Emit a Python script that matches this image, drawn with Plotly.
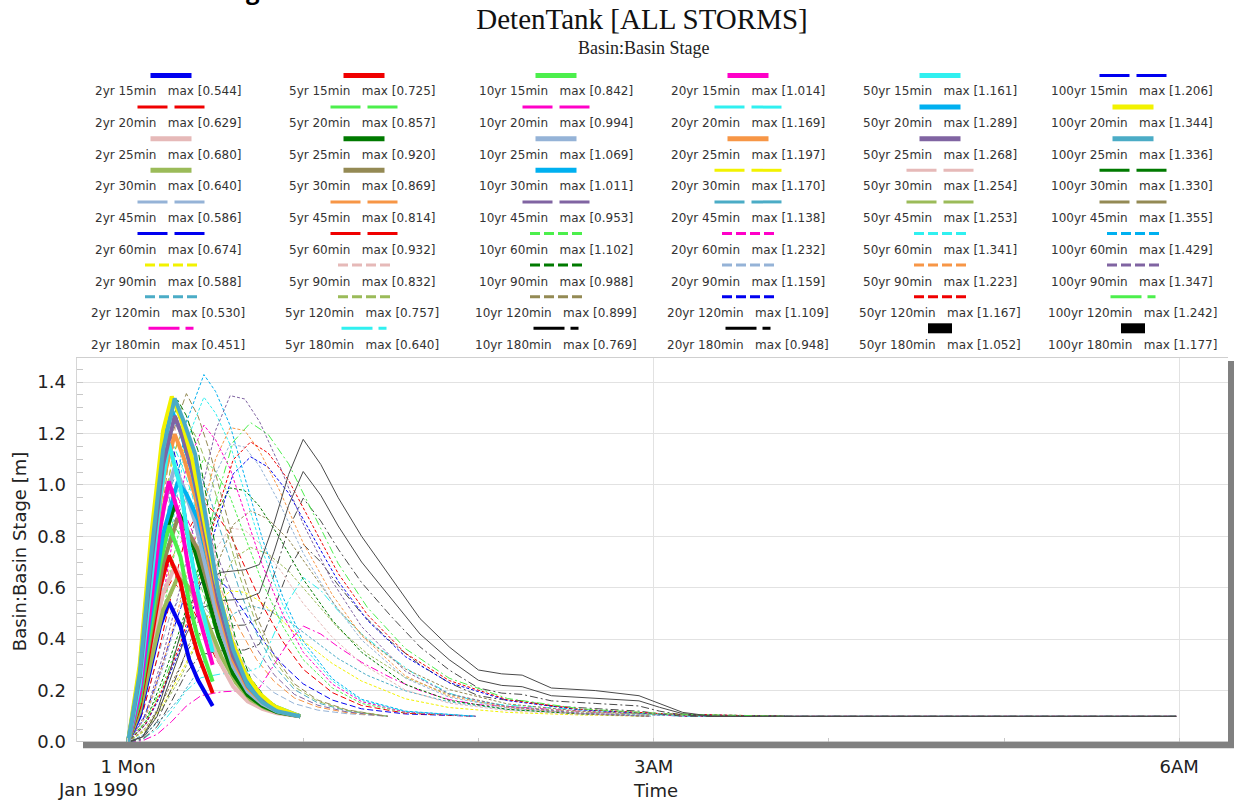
import plotly.graph_objects as go
import pandas as pd

# ---------------- data ----------------
RETURN_PERIODS = [2, 5, 10, 20, 50, 100]
DURATIONS = [15, 20, 25, 30, 45, 60, 90, 120, 180]

# time grids (minutes after 1 Jan 1990 00:00) for each storm duration
T15 = [0, 4, 8, 11, 14, 18, 21, 24, 29]
T20 = [0, 4, 8, 12, 15, 18, 22, 26, 30, 35, 40, 45, 50, 59]
T25 = [0, 4, 8, 12, 16, 19, 23, 27, 31, 36, 41, 46, 51, 59]
T30 = [0, 4, 8, 12, 17, 20, 24, 28, 32, 37, 42, 47, 52, 59]
T45 = [0, 5, 10, 15, 20, 24, 28, 33, 38, 44, 50, 57, 65, 75, 89]
T60 = [0, 5, 10, 15, 20, 26, 30, 35, 40, 46, 53, 60, 70, 80, 95, 119]
T90 = [0, 6, 12, 18, 24, 30, 35, 40, 45, 52, 60, 70, 80, 95, 110, 130, 155, 179]
T120 = [0, 6, 12, 18, 24, 30, 36, 42, 48, 55, 63, 72, 82, 95, 110, 130, 155, 185, 225]
T180 = [0, 5, 10, 15, 20, 25, 32, 40, 45, 50, 55, 60, 66, 72, 80, 90, 100, 110, 120, 128,
        135, 145, 160, 175, 182, 190, 200, 215, 240, 280, 359]

# basin stage [m]; rows = 2, 5, 10, 20, 50, 100 yr
STAGE_15 = [
    [0.0, 0.10, 0.30, 0.45, 0.544, 0.45, 0.32, 0.24, 0.14],
    [0.0, 0.14, 0.40, 0.60, 0.725, 0.62, 0.46, 0.34, 0.19],
    [0.0, 0.16, 0.46, 0.69, 0.842, 0.72, 0.54, 0.40, 0.235],
    [0.0, 0.19, 0.55, 0.83, 1.014, 0.86, 0.66, 0.50, 0.30],
    [0.0, 0.22, 0.63, 0.95, 1.161, 0.99, 0.76, 0.58, 0.35],
    [0.0, 0.23, 0.66, 0.99, 1.206, 1.03, 0.79, 0.60, 0.37],
]
STAGE_20 = [
    [0.0, 0.138, 0.377, 0.566, 0.629, 0.592, 0.523, 0.428, 0.327, 0.232, 0.174, 0.137, 0.116, 0.10],
    [0.0, 0.19, 0.51, 0.77, 0.857, 0.80, 0.71, 0.57, 0.43, 0.29, 0.21, 0.15, 0.12, 0.10],
    [0.0, 0.22, 0.60, 0.89, 0.994, 0.93, 0.82, 0.65, 0.48, 0.32, 0.23, 0.16, 0.13, 0.10],
    [0.0, 0.26, 0.70, 1.05, 1.169, 1.09, 0.96, 0.76, 0.56, 0.37, 0.25, 0.17, 0.13, 0.10],
    [0.0, 0.28, 0.77, 1.16, 1.289, 1.21, 1.05, 0.84, 0.61, 0.40, 0.27, 0.18, 0.14, 0.10],
    [0.0, 0.30, 0.81, 1.21, 1.344, 1.26, 1.10, 0.87, 0.63, 0.41, 0.27, 0.19, 0.14, 0.10],
]
STAGE_25 = [
    [0.0, 0.136, 0.374, 0.578, 0.680, 0.634, 0.552, 0.436, 0.32, 0.216, 0.158, 0.129, 0.112, 0.10],
    [0.0, 0.184, 0.506, 0.782, 0.920, 0.854, 0.74, 0.576, 0.412, 0.264, 0.182, 0.141, 0.116, 0.10],
    [0.0, 0.214, 0.588, 0.909, 1.069, 0.991, 0.856, 0.662, 0.468, 0.294, 0.197, 0.148, 0.119, 0.10],
    [0.0, 0.239, 0.658, 1.017, 1.197, 1.109, 0.956, 0.736, 0.517, 0.319, 0.21, 0.155, 0.122, 0.10],
    [0.0, 0.254, 0.697, 1.078, 1.268, 1.175, 1.011, 0.777, 0.544, 0.334, 0.217, 0.158, 0.123, 0.10],
    [0.0, 0.267, 0.735, 1.136, 1.336, 1.25, 1.12, 0.85, 0.58, 0.36, 0.22, 0.155, 0.12, 0.10],
]
STAGE_30 = [
    [0.0, 0.115, 0.32, 0.512, 0.640, 0.613, 0.554, 0.446, 0.332, 0.23, 0.165, 0.132, 0.114, 0.10],
    [0.0, 0.156, 0.435, 0.695, 0.869, 0.831, 0.746, 0.592, 0.431, 0.285, 0.192, 0.146, 0.119, 0.10],
    [0.0, 0.182, 0.506, 0.809, 1.011, 0.965, 0.865, 0.683, 0.492, 0.319, 0.209, 0.155, 0.123, 0.10],
    [0.0, 0.211, 0.585, 0.936, 1.170, 1.117, 0.999, 0.785, 0.56, 0.357, 0.228, 0.164, 0.127, 0.10],
    [0.0, 0.226, 0.627, 1.003, 1.254, 1.196, 1.069, 0.839, 0.596, 0.377, 0.238, 0.169, 0.129, 0.10],
    [0.0, 0.239, 0.665, 1.064, 1.330, 1.269, 1.133, 0.887, 0.629, 0.395, 0.248, 0.174, 0.131, 0.10],
]
STAGE_45 = [
    [0.0, 0.117, 0.322, 0.516, 0.586, 0.552, 0.499, 0.416, 0.333, 0.251, 0.192, 0.149, 0.124, 0.11, 0.10],
    [0.0, 0.163, 0.448, 0.716, 0.814, 0.764, 0.685, 0.564, 0.443, 0.321, 0.236, 0.171, 0.136, 0.114, 0.10],
    [0.0, 0.191, 0.524, 0.839, 0.953, 0.893, 0.799, 0.654, 0.509, 0.364, 0.262, 0.185, 0.143, 0.117, 0.10],
    [0.0, 0.228, 0.626, 1.001, 1.138, 1.065, 0.951, 0.775, 0.598, 0.422, 0.297, 0.204, 0.152, 0.121, 0.10],
    [0.0, 0.251, 0.689, 1.103, 1.253, 1.172, 1.045, 0.849, 0.653, 0.457, 0.319, 0.215, 0.158, 0.123, 0.10],
    [0.0, 0.271, 0.745, 1.192, 1.355, 1.267, 1.129, 0.916, 0.702, 0.489, 0.338, 0.226, 0.163, 0.125, 0.10],
]
STAGE_60 = [
    [0.0, 0.081, 0.236, 0.418, 0.586, 0.674, 0.645, 0.588, 0.502, 0.398, 0.301, 0.226, 0.163, 0.129, 0.109, 0.10],
    [0.0, 0.112, 0.326, 0.578, 0.811, 0.932, 0.89, 0.807, 0.682, 0.533, 0.391, 0.283, 0.192, 0.142, 0.112, 0.10],
    [0.0, 0.132, 0.386, 0.683, 0.959, 1.102, 1.052, 0.952, 0.801, 0.621, 0.451, 0.32, 0.21, 0.15, 0.115, 0.10],
    [0.0, 0.148, 0.431, 0.764, 1.072, 1.232, 1.175, 1.062, 0.892, 0.689, 0.496, 0.349, 0.225, 0.157, 0.117, 0.10],
    [0.0, 0.161, 0.469, 0.831, 1.167, 1.341, 1.279, 1.155, 0.969, 0.745, 0.534, 0.373, 0.237, 0.162, 0.119, 0.10],
    [0.0, 0.171, 0.50, 0.886, 1.243, 1.429, 1.363, 1.23, 1.03, 0.791, 0.565, 0.392, 0.246, 0.166, 0.12, 0.10],
]
STAGE_90 = [
    [0.0, 0.047, 0.147, 0.265, 0.40, 0.529, 0.588, 0.582, 0.549, 0.481, 0.393, 0.305, 0.237, 0.168, 0.134, 0.115, 0.105, 0.10],
    [0.0, 0.067, 0.208, 0.374, 0.566, 0.749, 0.832, 0.824, 0.773, 0.671, 0.539, 0.407, 0.305, 0.202, 0.151, 0.122, 0.107, 0.10],
    [0.0, 0.079, 0.247, 0.445, 0.672, 0.889, 0.988, 0.978, 0.917, 0.793, 0.633, 0.473, 0.349, 0.224, 0.162, 0.127, 0.109, 0.10],
    [0.0, 0.093, 0.29, 0.522, 0.788, 1.043, 1.159, 1.147, 1.074, 0.926, 0.735, 0.545, 0.397, 0.248, 0.174, 0.132, 0.111, 0.10],
    [0.0, 0.098, 0.306, 0.55, 0.832, 1.101, 1.223, 1.211, 1.133, 0.976, 0.774, 0.572, 0.414, 0.257, 0.179, 0.134, 0.111, 0.10],
    [0.0, 0.108, 0.337, 0.606, 0.916, 1.212, 1.347, 1.334, 1.247, 1.073, 0.848, 0.624, 0.449, 0.275, 0.187, 0.137, 0.112, 0.10],
]
STAGE_120 = [
    [0.0, 0.032, 0.095, 0.175, 0.276, 0.398, 0.498, 0.530, 0.513, 0.47, 0.401, 0.324, 0.259, 0.199, 0.156, 0.126, 0.111, 0.103, 0.10],
    [0.0, 0.045, 0.136, 0.25, 0.394, 0.568, 0.712, 0.757, 0.731, 0.665, 0.56, 0.442, 0.343, 0.251, 0.185, 0.139, 0.116, 0.105, 0.10],
    [0.0, 0.054, 0.162, 0.297, 0.467, 0.674, 0.845, 0.899, 0.867, 0.787, 0.659, 0.515, 0.396, 0.284, 0.204, 0.148, 0.12, 0.106, 0.10],
    [0.0, 0.067, 0.20, 0.366, 0.577, 0.832, 1.042, 1.109, 1.069, 0.968, 0.806, 0.625, 0.473, 0.332, 0.231, 0.161, 0.125, 0.108, 0.10],
    [0.0, 0.07, 0.21, 0.385, 0.607, 0.875, 1.097, 1.167, 1.124, 1.018, 0.847, 0.655, 0.495, 0.345, 0.239, 0.164, 0.127, 0.109, 0.10],
    [0.0, 0.075, 0.224, 0.41, 0.646, 0.932, 1.167, 1.242, 1.196, 1.082, 0.899, 0.694, 0.523, 0.363, 0.248, 0.169, 0.129, 0.109, 0.10],
]
STAGE_180 = [
    [0.0, 0.005, 0.03, 0.08, 0.14, 0.18, 0.195, 0.20, 0.21, 0.30, 0.39, 0.451, 0.42, 0.37, 0.31, 0.25, 0.20, 0.165, 0.145, 0.14,
     0.135, 0.125, 0.115, 0.11, 0.105, 0.10, 0.10, 0.10, 0.10, 0.10, 0.10],
    [0.0, 0.01, 0.05, 0.12, 0.20, 0.25, 0.265, 0.27, 0.29, 0.42, 0.55, 0.640, 0.59, 0.51, 0.42, 0.33, 0.25, 0.19, 0.155, 0.145,
     0.14, 0.13, 0.12, 0.11, 0.105, 0.10, 0.10, 0.10, 0.10, 0.10, 0.10],
    [0.0, 0.01, 0.06, 0.16, 0.27, 0.34, 0.355, 0.358, 0.38, 0.52, 0.67, 0.769, 0.70, 0.61, 0.50, 0.39, 0.30, 0.23, 0.18, 0.165,
     0.16, 0.14, 0.13, 0.12, 0.11, 0.10, 0.10, 0.10, 0.10, 0.10, 0.10],
    [0.0, 0.015, 0.08, 0.21, 0.35, 0.43, 0.45, 0.455, 0.48, 0.65, 0.83, 0.948, 0.86, 0.75, 0.62, 0.49, 0.37, 0.28, 0.21, 0.19,
     0.185, 0.16, 0.15, 0.14, 0.12, 0.105, 0.10, 0.10, 0.10, 0.10, 0.10],
    [0.0, 0.02, 0.10, 0.26, 0.42, 0.52, 0.55, 0.556, 0.58, 0.74, 0.92, 1.052, 0.96, 0.84, 0.70, 0.56, 0.42, 0.32, 0.24, 0.22,
     0.215, 0.18, 0.17, 0.16, 0.135, 0.11, 0.10, 0.10, 0.10, 0.10, 0.10],
    [0.0, 0.02, 0.12, 0.30, 0.50, 0.62, 0.66, 0.67, 0.69, 0.85, 1.04, 1.177, 1.08, 0.95, 0.80, 0.64, 0.48, 0.37, 0.28, 0.265,
     0.26, 0.21, 0.20, 0.18, 0.15, 0.115, 0.10, 0.10, 0.10, 0.10, 0.10],
]

TIMES = [T15, T20, T25, T30, T45, T60, T90, T120, T180]
STAGES = [STAGE_15, STAGE_20, STAGE_25, STAGE_30, STAGE_45, STAGE_60, STAGE_90, STAGE_120, STAGE_180]

X_TICK_LABELS = ["1 Mon", "3AM", "6AM"]
X_TICK_MINUTES = [0, 180, 360]
Y_TICKS = [0.0, 0.2, 0.4, 0.6, 0.8, 1.0, 1.2, 1.4]

# ---------------- styles ----------------
PALETTE = {
    "blue": "#0000F0", "red": "#F00000", "pink": "#E6B9B8", "olive": "#9BBB59",
    "lsb": "#95B3D7", "yellow": "#F2F200", "teal": "#4BACC6", "magenta": "#FF00C8",
    "lgreen": "#4CEF4C", "dgreen": "#007A00", "obrown": "#948A54", "orange": "#F79646",
    "cyan": "#30F0F0", "dsky": "#00B0F0", "purple": "#8064A2", "black": "#000000",
}
STYLE_GRID = [  # rows: return periods, cols: durations
    [("blue", "S"), ("red", "D"), ("pink", "S"), ("olive", "S"), ("lsb", "D"), ("blue", "D"), ("yellow", "d"), ("teal", "d"), ("magenta", "DD")],
    [("red", "S"), ("lgreen", "D"), ("dgreen", "S"), ("obrown", "S"), ("orange", "D"), ("red", "D"), ("pink", "d"), ("olive", "d"), ("cyan", "DD")],
    [("lgreen", "S"), ("magenta", "D"), ("lsb", "S"), ("dsky", "S"), ("purple", "D"), ("lgreen", "d"), ("dgreen", "d"), ("obrown", "d"), ("black", "DD")],
    [("magenta", "S"), ("cyan", "D"), ("orange", "S"), ("yellow", "D"), ("teal", "D"), ("magenta", "d"), ("lsb", "d"), ("blue", "d"), ("black", "DD")],
    [("cyan", "S"), ("dsky", "S"), ("purple", "S"), ("pink", "D"), ("olive", "D"), ("cyan", "d"), ("orange", "d"), ("red", "d"), ("black", "K")],
    [("blue", "D"), ("yellow", "S"), ("teal", "S"), ("dgreen", "D"), ("obrown", "D"), ("dsky", "d"), ("purple", "d"), ("lgreen", "DD"), ("black", "K")],
]
CHART_DASH = {"S": "solid", "D": "6px,3px", "d": "3px,2px", "DD": "8px,3px,2px,3px", "K": "solid"}
SANS = "DejaVu Sans, Arial"
SERIF = "Liberation Serif, Times New Roman"

BASE = pd.Timestamp("1990-01-01 00:00")


def to_time(mins):
    return [BASE + pd.Timedelta(minutes=m) for m in mins]


# plot-area pixel geometry
L, R, TOP, BOT = 76, 1228, 358, 745


def px_x(X):
    return (X - L) / (R - L)


def px_y(Y):
    return (BOT - Y) / (BOT - TOP)


fig = go.Figure()

thin, thick = [], []
for i, rp in enumerate(RETURN_PERIODS):
    for j, dur in enumerate(DURATIONS):
        cname, st = STYLE_GRID[i][j]
        (thick if st == "S" else thin).append((i, j, rp, dur, cname, st))

for (i, j, rp, dur, cname, st) in thin + thick:
    col = PALETTE[cname]
    if cname == "black":
        col = "#4a4a4a"
    fig.add_trace(go.Scatter(
        x=to_time(TIMES[j]), y=STAGES[j][i], mode="lines",
        name=f"{rp}yr {dur}min",
        line=dict(color=col, width=4 if st == "S" else 1, dash=CHART_DASH[st]),
        showlegend=False, hoverinfo="skip",
    ))

# ---------------- custom legend (6 columns x 9 rows) ----------------
LEG_SAMPLE_X = [171, 364, 556, 748, 940, 1133]
LEG_TEXT_X = [168, 362, 556, 748, 940, 1132]
shapes = []
annotations = []
NB = "\u00a0"
for i, rp in enumerate(RETURN_PERIODS):
    for j, dur in enumerate(DURATIONS):
        cname, st = STYLE_GRID[i][j]
        col = PALETTE[cname]
        cx = LEG_SAMPLE_X[i]
        cy = 75.5 + 31.6 * j
        if st == "S":
            half, w, dash = 20.5, 5, "solid"
        elif st == "D":
            half, w, dash = 33.5, 3, "30px,7px"
        elif st == "d":
            half, w, dash = 26, 3, "10px,4px"
        elif st == "DD":
            half, w, dash = 22.5, 3, "31px,6px,8px,6px"
        else:
            half, w, dash = 12, 10, "solid"
        shapes.append(dict(type="line", xref="paper", yref="paper",
                           x0=px_x(cx - half), x1=px_x(cx + half), y0=px_y(cy), y1=px_y(cy),
                           line=dict(color=col, width=w, dash=dash)))
        mx = max(STAGES[j][i])
        annotations.append(dict(
            xref="paper", yref="paper", x=px_x(LEG_TEXT_X[i]), y=px_y(91 + 31.75 * j),
            xanchor="center", yanchor="middle", showarrow=False,
            text=f"{rp}yr {dur}min{NB*3}max [{mx:.3f}]",
            font=dict(family=SANS, size=12, color="#333333"),
        ))

# frame: top/left hairlines, bottom & right shadow bars
shapes += [
    dict(type="line", xref="paper", yref="paper", x0=px_x(L), x1=px_x(R), y0=px_y(357.5), y1=px_y(357.5),
         line=dict(color="#cfcfcf", width=1)),
    dict(type="line", xref="paper", yref="paper", x0=px_x(76.5), x1=px_x(76.5), y0=px_y(358), y1=px_y(742),
         line=dict(color="#d6d6d6", width=1)),
    dict(type="line", xref="paper", yref="paper", x0=px_x(83), x1=px_x(1234), y0=px_y(745), y1=px_y(745),
         line=dict(color="#808080", width=6.5)),
    dict(type="line", xref="paper", yref="paper", x0=px_x(1231), x1=px_x(1231), y0=px_y(361), y1=px_y(748),
         line=dict(color="#808080", width=6)),
]

annotations += [
    dict(xref="paper", yref="paper", x=px_x(644), y=px_y(48), xanchor="center", yanchor="middle",
         showarrow=False, text="Basin:Basin Stage",
         font=dict(family=SERIF, size=18, color="#222")),
    dict(xref="paper", yref="paper", x=px_x(98), y=px_y(789), xanchor="center", yanchor="middle",
         showarrow=False, text="Jan 1990",
         font=dict(family=SANS, size=18, color="#222")),
    dict(xref="paper", yref="paper", x=px_x(655), y=px_y(790), xanchor="center", yanchor="middle",
         showarrow=False, text="Time",
         font=dict(family=SANS, size=18, color="#222")),
    dict(xref="paper", yref="paper", x=px_x(253), y=px_y(8), xanchor="center", yanchor="bottom",
         showarrow=False, text="<b>g</b>",
         font=dict(family="Open Sans, Arial", size=24, color="#000")),
]

fig.update_layout(
    width=1236, height=801,
    margin=dict(l=L, r=1236 - R, t=TOP, b=801 - BOT),
    paper_bgcolor="white", plot_bgcolor="white",
    title=dict(text="DetenTank [ALL STORMS]", x=642 / 1236, xanchor="center",
               y=1 - 19 / 801, yanchor="middle",
               font=dict(family=SERIF, size=29, color="#111")),
    shapes=shapes, annotations=annotations,
    xaxis=dict(
        type="date",
        range=[BASE + pd.Timedelta(minutes=-17.8), BASE + pd.Timedelta(minutes=376.7)],
        tickmode="array", tickvals=to_time(X_TICK_MINUTES), ticktext=X_TICK_LABELS,
        ticks="", ticklabelstandoff=9,
        tickfont=dict(family=SANS, size=18, color="#222"),
        showgrid=True, gridcolor="#e2e2e2", gridwidth=1, zeroline=False, showline=False,
        minor=dict(ticks="inside", ticklen=7, tickcolor="#c8c8c8", tickwidth=1,
                   dtick=3600000, tick0=BASE, showgrid=False),
    ),
    yaxis=dict(
        range=[-0.0117, 1.4934],
        tickmode="array", tickvals=Y_TICKS, tickformat=".1f",
        ticks="inside", ticklen=7, tickcolor="#c8c8c8",
        tickfont=dict(family=SANS, size=18, color="#222"),
        ticklabelstandoff=9,
        showgrid=True, gridcolor="#e2e2e2", gridwidth=1, zeroline=False, showline=False,
        minor=dict(ticks="inside", ticklen=7, tickcolor="#c8c8c8", dtick=0.05, tick0=0, showgrid=False),
        title=dict(text="Basin:Basin Stage [m]", standoff=6,
                   font=dict(family=SANS, size=18, color="#222")),
    ),
)

fig.write_html("out.html", config={"displayModeBar": False},
               post_script="document.body.style.margin='0px';")
